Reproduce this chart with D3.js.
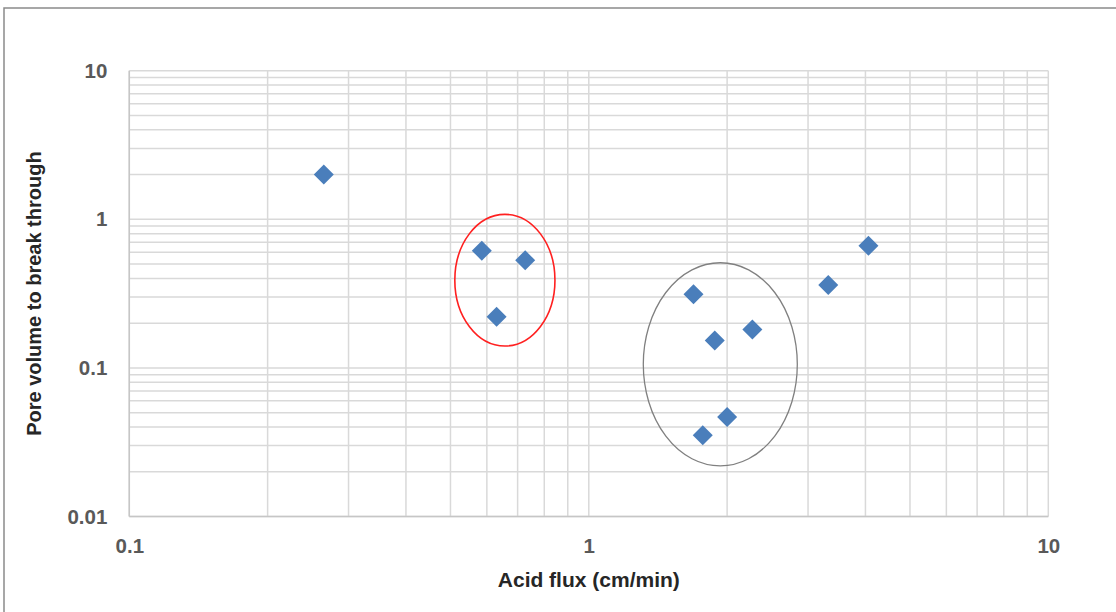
<!DOCTYPE html>
<html><head><meta charset="utf-8">
<script src="https://cdn.jsdelivr.net/npm/d3@7"></script>
<style>body{margin:0;background:#fff}svg{display:block}</style>
</head><body>
<svg id="c" width="1116" height="612"></svg>
<script>
// Data
const acidFlux = [0.265, 0.585, 0.727, 0.63, 1.69, 1.88, 2.27, 2.0, 1.77, 3.32, 4.06];
const poreVolume = [2.0, 0.615, 0.53, 0.221, 0.313, 0.153, 0.181, 0.0467, 0.0352, 0.361, 0.664];
const xTickLabels = ["0.1", "1", "10"];
const yTickLabels = ["0.01", "0.1", "1", "10"];
// annotation ellipses: [xMin, xMax, yMin, yMax] in data units
const redEllipse = [0.511, 0.844, 0.1404, 1.08];
const greyEllipse = [1.314, 2.843, 0.0219, 0.510];

const svg = d3.select("#c");
const L = 129.3, R = 1048.3, T = 70.7, B = 516.5;
const x = d3.scaleLog().domain([0.1, 10]).range([L, R]);
const y = d3.scaleLog().domain([0.01, 10]).range([B, T]);

// outer chart border
svg.append("rect").attr("x", 4).attr("y", 8).attr("width", 1200).attr("height", 700)
  .attr("fill", "#fff").attr("stroke", "#8a8a8a").attr("stroke-width", 1.5);

// gridlines
const minorX = [], minorY = [];
for (let d = 0.1; d < 10; d *= 10) for (let k = 1; k <= 10; k++) minorX.push(+(d * k).toPrecision(3));
for (let d = 0.01; d < 10; d *= 10) for (let k = 1; k <= 10; k++) minorY.push(+(d * k).toPrecision(3));
const g = svg.append("g");
g.selectAll(".vx").data(Array.from(new Set(minorX))).join("line")
  .attr("x1", d => x(d)).attr("x2", d => x(d)).attr("y1", T).attr("y2", B)
  .attr("stroke", "#d9d9d9").attr("stroke-width", 1.5);
g.selectAll(".hy").data(Array.from(new Set(minorY))).join("line")
  .attr("y1", d => y(d)).attr("y2", d => y(d)).attr("x1", L).attr("x2", R)
  .attr("stroke", "#d9d9d9").attr("stroke-width", 1.5);
// axis lines
svg.append("line").attr("x1", L).attr("x2", R).attr("y1", B).attr("y2", B).attr("stroke", "#c6c6c6").attr("stroke-width", 1.5);
svg.append("line").attr("x1", L).attr("x2", L).attr("y1", T).attr("y2", B).attr("stroke", "#c6c6c6").attr("stroke-width", 1.5);

// axes (labels only) via d3 axes
const xAxis = d3.axisBottom(x).tickValues(xTickLabels.map(Number)).tickFormat((d, i) => xTickLabels[i]).tickSize(0).tickPadding(22);
const yAxis = d3.axisLeft(y).tickValues(yTickLabels.map(Number)).tickFormat((d, i) => yTickLabels[i]).tickSize(0).tickPadding(22);
const ax = svg.append("g").attr("transform", `translate(0,${B})`).call(xAxis);
const ay = svg.append("g").attr("transform", `translate(${L},0)`).call(yAxis);
[ax, ay].forEach(a => {
  a.select(".domain").remove();
  a.selectAll("text").attr("font-family", "Liberation Sans, Arial, sans-serif").attr("font-size", 20.5)
    .attr("font-weight", "bold").attr("fill", "#595959");
});
ax.selectAll("text").attr("dy", "0.71em").attr("y", 22);

// ellipses
function drawEllipse(e, color, w) {
  const cx = (x(e[0]) + x(e[1])) / 2, cy = (y(e[2]) + y(e[3])) / 2;
  svg.append("ellipse").attr("cx", cx).attr("cy", cy)
    .attr("rx", Math.abs(x(e[1]) - x(e[0])) / 2).attr("ry", Math.abs(y(e[2]) - y(e[3])) / 2)
    .attr("fill", "none").attr("stroke", color).attr("stroke-width", w);
}
drawEllipse(redEllipse, "#ff2020", 1.6);
drawEllipse(greyEllipse, "#808080", 1.3);

// points
const pts = acidFlux.map((v, i) => [v, poreVolume[i]]);
svg.selectAll(".pt").data(pts).join("path")
  .attr("d", d3.symbol().type(d3.symbolSquare).size(200))
  .attr("transform", d => `translate(${x(d[0])},${y(d[1])}) rotate(45)`)
  .attr("fill", "#4a7ebb");

// titles
svg.append("text").attr("x", (L + R) / 2).attr("y", 587).attr("text-anchor", "middle")
  .attr("font-family", "Liberation Sans, Arial, sans-serif").attr("font-size", 21).attr("font-weight", "bold")
  .attr("fill", "#262626").text("Acid flux (cm/min)");
svg.append("text").attr("transform", `translate(41,${(T + B) / 2}) rotate(-90)`).attr("text-anchor", "middle")
  .attr("font-family", "Liberation Sans, Arial, sans-serif").attr("font-size", 20).attr("font-weight", "bold")
  .attr("fill", "#262626").text("Pore volume to break through");
</script>
</body></html>
